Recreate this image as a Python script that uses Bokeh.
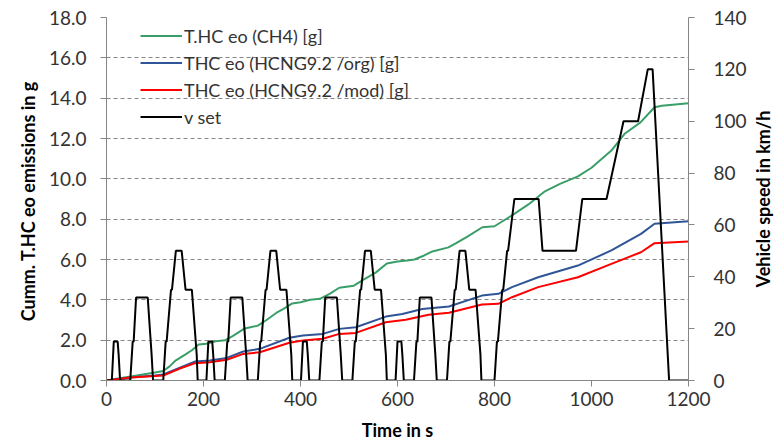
from bokeh.plotting import figure
from bokeh.layouts import row
from bokeh.models import LinearAxis, Range1d, FixedTicker, NumeralTickFormatter, Legend, LegendItem, Title
from bokeh.embed import file_html
from bokeh.resources import INLINE

# ---- data ----
# cumulative THC engine-out emissions [g]
t_ch4 = [0, 11, 50, 100, 117, 130, 143, 163, 176, 190, 206, 225, 245, 260, 285, 312, 330, 350, 365, 383,
         400, 420, 440, 460, 480, 510, 530, 555, 578, 600, 620, 635, 655, 672, 705, 720, 745, 775, 800,
         840, 870, 904, 935, 972, 1000, 1041, 1069, 1101, 1130, 1145, 1200]
v_ch4 = [0.0, 0.05, 0.2, 0.4, 0.47, 0.7, 1.0, 1.3, 1.5, 1.78, 1.82, 1.95, 2.0, 2.2, 2.58, 2.72, 3.0, 3.35, 3.55, 3.82,
         3.88, 4.0, 4.05, 4.3, 4.6, 4.7, 5.0, 5.35, 5.8, 5.9, 5.95, 6.0, 6.2, 6.4, 6.6, 6.8, 7.15, 7.6, 7.65,
         8.25, 8.73, 9.38, 9.75, 10.12, 10.55, 11.4, 12.25, 12.8, 13.55, 13.62, 13.75]

t_org = [0, 50, 100, 117, 150, 183, 213, 248, 282, 316, 377, 405, 446, 480, 514, 576, 610, 651, 706, 774,
         808, 836, 890, 972, 1041, 1102, 1130, 1200]
v_org = [0.0, 0.15, 0.25, 0.3, 0.62, 0.94, 0.99, 1.12, 1.44, 1.57, 2.12, 2.23, 2.31, 2.56, 2.64, 3.17, 3.3, 3.55, 3.67, 4.21,
         4.3, 4.63, 5.12, 5.7, 6.45, 7.27, 7.77, 7.9]

t_mod = [0, 50, 100, 117, 150, 183, 213, 248, 282, 316, 377, 405, 446, 480, 514, 576, 617, 664, 706, 774,
         808, 836, 890, 972, 1041, 1102, 1130, 1200]
v_mod = [0.0, 0.15, 0.22, 0.25, 0.58, 0.86, 0.91, 1.03, 1.32, 1.4, 1.87, 1.98, 2.07, 2.31, 2.36, 2.89, 3.01, 3.26, 3.36, 3.77,
         3.8, 4.13, 4.63, 5.12, 5.78, 6.36, 6.81, 6.89]

# set vehicle speed [km/h] (NEDC): urban part breakpoints, repeated at cycle starts, then extra-urban part
ece_t = [0, 11, 15, 23, 25, 28, 49, 54, 56, 61, 85, 93, 96, 117, 122, 124, 133, 135, 143, 155, 163, 176, 186, 188, 195]
ece_v = [0, 0, 15, 15, 10, 0, 0, 15, 15, 32, 32, 10, 0, 0, 15, 15, 35, 35, 50, 50, 35, 35, 10, 0, 0]
ece_starts = [0, 195, 390, 585]
eudc_t = [800, 805, 807, 816, 818, 826, 828, 841, 891, 899, 968, 981, 1031, 1066, 1096, 1116, 1126, 1160, 1200]
eudc_v = [0, 15, 15, 35, 35, 50, 50, 70, 70, 50, 50, 70, 70, 100, 100, 120, 120, 0, 0]

t_speed = []
v_speed = []
for s in ece_starts:
    for tt, vv in zip(ece_t, ece_v):
        t_speed.append(s + tt)
        v_speed.append(vv)
t_speed += eudc_t
v_speed += eudc_v

left_ticks = [0, 2, 4, 6, 8, 10, 12, 14, 16, 18]
right_ticks = [0, 20, 40, 60, 80, 100, 120, 140]
x_ticks = [0, 200, 400, 600, 800, 1000, 1200]

# ---- figure ----
FONT = "Lato"
TXT = "#333333"
AX = "#868686"
SIDE_W = 30

p = figure(width=779 - SIDE_W, height=443, output_backend="svg", toolbar_location=None,
           x_range=Range1d(0, 1200), y_range=Range1d(0, 18),
           min_border_left=106, min_border_right=58, min_border_top=17, min_border_bottom=63)
p.outline_line_color = None
p.background_fill_color = "white"
p.border_fill_color = "white"
p.extra_y_ranges = {"speed": Range1d(0, 140)}

p.xgrid.visible = False
p.ygrid.grid_line_color = AX
p.ygrid.grid_line_dash = "4 3"
p.ygrid.grid_line_width = 1
p.ygrid.ticker = FixedTicker(ticks=left_ticks)

def style_axis(ax):
    ax.axis_line_color = AX
    ax.major_tick_line_color = AX
    ax.minor_tick_line_color = None
    ax.major_tick_in = 0
    ax.major_tick_out = 6
    ax.major_label_text_font = FONT
    ax.major_label_text_font_size = "19px"
    ax.major_label_text_color = TXT
    ax.axis_label_text_font = FONT
    ax.axis_label_text_font_size = "18px"
    ax.axis_label_text_font_style = "bold"
    ax.axis_label_text_color = "#000000"

xa = p.xaxis[0]
style_axis(xa)
xa.ticker = FixedTicker(ticks=x_ticks)
xa.axis_label = "Time in s"
xa.major_label_standoff = 5
xa.axis_label_standoff = 10

ya = p.yaxis[0]
style_axis(ya)
ya.ticker = FixedTicker(ticks=left_ticks)
ya.formatter = NumeralTickFormatter(format="0.0")
ya.axis_label = "Cumm. T.HC eo emissions  in g"
ya.major_label_standoff = 14
ya.axis_label_standoff = 7

ra = LinearAxis(y_range_name="speed")
style_axis(ra)
ra.ticker = FixedTicker(ticks=right_ticks)
ra.major_label_standoff = 19
p.add_layout(ra, "right")

r1 = p.line(t_ch4, v_ch4, line_color="#3A9E68", line_width=2)
r2 = p.line(t_org, v_org, line_color="#2F5597", line_width=2)
r3 = p.line(t_mod, v_mod, line_color="#FF0000", line_width=2)
r4 = p.line(t_speed, v_speed, line_color="#000000", line_width=2, y_range_name="speed")

legend = Legend(items=[
    LegendItem(label="T.HC eo (CH4) [g]", renderers=[r1]),
    LegendItem(label="THC eo (HCNG9.2 /org) [g]", renderers=[r2]),
    LegendItem(label="THC eo (HCNG9.2 /mod) [g]", renderers=[r3]),
    LegendItem(label="v set", renderers=[r4]),
], location=(34, 250))
legend.background_fill_alpha = 0
legend.border_line_color = None
legend.padding = 0
legend.margin = 0
legend.spacing = 0
legend.glyph_width = 42
legend.glyph_height = 27
legend.label_height = 27
legend.label_standoff = 2
legend.label_text_font = FONT
legend.label_text_font_size = "18px"
legend.label_text_color = TXT
p.add_layout(legend, "center")

# narrow companion figure carrying the secondary-axis title (reads bottom-to-top)
p2 = figure(width=SIDE_W, height=443, output_backend="svg", toolbar_location=None,
            x_range=Range1d(0, 1), y_range=Range1d(0, 1),
            min_border_left=0, min_border_right=0, min_border_top=17, min_border_bottom=63)
p2.xaxis.visible = False
p2.yaxis.visible = False
p2.grid.visible = False
p2.outline_line_color = None
p2.background_fill_color = "white"
p2.border_fill_color = "white"
p2.add_layout(Title(text="Vehicle speed in km/h", align="center", text_font=FONT,
                    text_font_size="18px", text_font_style="bold", text_color="#000000",
                    standoff=0, offset=0), "left")

layout = row(p, p2, spacing=0)
open("out.html", "w").write(file_html(layout, INLINE))
